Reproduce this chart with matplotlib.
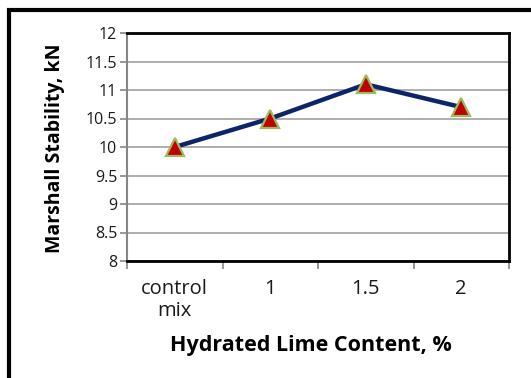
import matplotlib.pyplot as plt
from matplotlib.patches import Rectangle

plt.rcParams["font.family"] = ["Open Sans", "DejaVu Sans"]

# Marshall stability vs hydrated lime content
lime_labels = ["control\nmix", "1", "1.5", "2"]
stability_kn = [10.0, 10.5, 11.1, 10.7]
y_ticks = [8, 8.5, 9, 9.5, 10, 10.5, 11, 11.5, 12]

fig = plt.figure(figsize=(5.31, 3.78), dpi=100)
ax = fig.add_axes([127 / 531, 1 - 261 / 378, (509 - 127) / 531, (261 - 33) / 378])

# outer chart frame
fig.patches.append(Rectangle((9 / 531, -0.1), 1.2, 1 - 9.5 / 378 + 0.1,
                             transform=fig.transFigure, fill=False,
                             edgecolor="black", linewidth=3, zorder=0))

x = list(range(len(lime_labels)))
ax.plot(x, stability_kn, color="#0d2566", linewidth=3.2, zorder=3)
ax.plot(x, stability_kn, linestyle="none", marker="^", markersize=13,
        markerfacecolor="#c00000", markeredgecolor="#9bbb59",
        markeredgewidth=1.6, zorder=4)

ax.set_xlim(-0.5, len(lime_labels) - 0.5)
ax.set_ylim(8, 12)
ax.set_yticks(y_ticks)
ax.set_yticklabels([f"{v:g}" for v in y_ticks], fontsize=11.5, color="#1a1a1a")
ax.set_xticks(x)
ax.set_xticklabels(lime_labels, fontsize=14.5, color="#1a1a1a", linespacing=1.1)
ax.tick_params(axis="x", length=0, pad=13)
ax.set_xticks([i - 0.5 for i in range(len(lime_labels) + 1)], minor=True)
ax.tick_params(axis="x", which="minor", length=6, color="#868686", width=1.2)
ax.tick_params(axis="y", length=5, color="#868686", width=1.2, pad=2)

ax.grid(axis="y", color="#a0a0a0", linewidth=1.2)
ax.set_axisbelow(True)
ax.spines["left"].set_color("#868686")
ax.spines["left"].set_linewidth(1.5)
for side in ["top", "right", "bottom"]:
    ax.spines[side].set_color("black")
    ax.spines[side].set_linewidth(2)

fig.text(311 / 531, 1 - 345 / 378, "Hydrated Lime Content, %", fontsize=15.5,
         fontweight="bold", ha="center", va="center")
fig.text(55 / 531, 1 - 148 / 378, "Marshall Stability, kN", fontsize=14,
         fontweight="bold", ha="center", va="center", rotation=90)

fig.savefig("out.png", dpi=100)
